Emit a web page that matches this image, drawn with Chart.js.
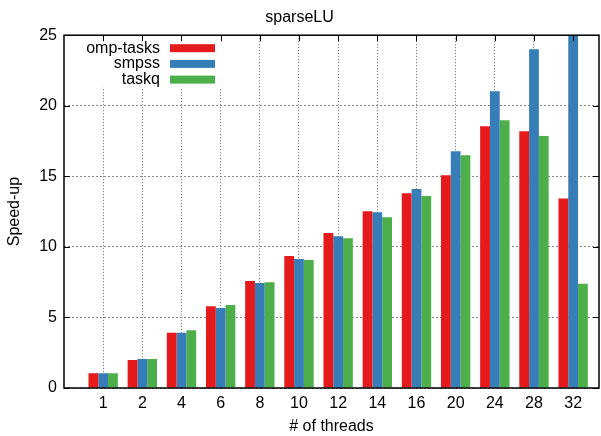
<!DOCTYPE html>
<html>
<head>
<meta charset="utf-8">
<script src="https://cdn.jsdelivr.net/npm/chart.js@4.4.0/dist/chart.umd.min.js"></script>
<style>
html, body { margin: 0; padding: 0; background: #fff; }
#wrap { width: 601px; height: 436px; }
</style>
</head>
<body>
<div id="wrap"><canvas id="speedupChart"></canvas></div>
<script>
const threads = ['1', '2', '4', '6', '8', '10', '12', '14', '16', '20', '24', '28', '32'];
const ompTasks = [1.05, 1.98, 3.92, 5.8, 7.58, 9.35, 10.98, 12.53, 13.8, 15.08, 18.55, 18.2, 13.43];
const smpss = [1.05, 2.05, 3.92, 5.67, 7.44, 9.14, 10.76, 12.46, 14.1, 16.78, 21.03, 24.0, 25];
const taskq = [1.05, 2.05, 4.1, 5.88, 7.5, 9.07, 10.62, 12.1, 13.6, 16.5, 18.98, 17.85, 7.39];
const yTicks = [0, 5, 10, 15, 20, 25];

const FONT = "'Liberation Sans', Arial, Helvetica, sans-serif";
Chart.defaults.font.family = FONT;
Chart.defaults.font.size = 16;
Chart.defaults.color = '#000';

// bars are placed on a linear x axis so the left/right margins can differ
function toPoints(values) {
    return values.map((v, i) => ({ x: i + 1, y: v }));
}

// legend inside the plot (text left of the swatch), frame and inward ticks
const gnuplotLook = {
    id: 'gnuplotLook',
    beforeDatasetsDraw(chart) {
        // bottom ticks sit behind the bars
        const ctx = chart.ctx;
        const area = chart.chartArea;
        const xs = chart.scales.x;
        ctx.save();
        ctx.strokeStyle = '#000';
        ctx.lineWidth = 1;
        ctx.beginPath();
        threads.forEach((t, i) => {
            const px = Math.round(xs.getPixelForValue(i + 1)) + 0.5;
            ctx.moveTo(px, area.bottom);
            ctx.lineTo(px, area.bottom - 6);
        });
        ctx.stroke();
        ctx.restore();
    },
    afterDatasetsDraw(chart) {
        const ctx = chart.ctx;
        const area = chart.chartArea;
        ctx.save();
        ctx.fillStyle = '#fff';
        ctx.fillRect(area.left + 1, area.top + 1, 162, 51);
        ctx.font = '16px ' + FONT;
        ctx.textAlign = 'right';
        ctx.textBaseline = 'middle';
        chart.data.datasets.forEach((ds, i) => {
            const y = area.top + 13 + i * 15.7;
            ctx.fillStyle = '#000';
            ctx.fillText(ds.label, area.left + 96, y);
            ctx.fillStyle = ds.backgroundColor;
            ctx.fillRect(area.left + 106, y - 4, 45, 8);
        });
        ctx.restore();
    },
    afterDraw(chart) {
        const ctx = chart.ctx;
        const area = chart.chartArea;
        const xs = chart.scales.x;
        const ys = chart.scales.y;
        ctx.save();
        ctx.strokeStyle = '#000';
        ctx.lineWidth = 1;
        ctx.beginPath();
        threads.forEach((t, i) => {
            const px = Math.round(xs.getPixelForValue(i + 1)) + 0.5;
            ctx.moveTo(px, area.top);
            ctx.lineTo(px, area.top + 6);
        });
        yTicks.forEach(v => {
            const py = Math.round(ys.getPixelForValue(v)) + 0.5;
            ctx.moveTo(area.left, py);
            ctx.lineTo(area.left + 6, py);
            ctx.moveTo(area.right, py);
            ctx.lineTo(area.right - 6, py);
        });
        ctx.stroke();
        ctx.lineWidth = 1.5;
        ctx.strokeRect(area.left, area.top, area.right - area.left, area.bottom - area.top);
        ctx.restore();
    }
};

const ctx = document.getElementById('speedupChart');

new Chart(ctx, {
    type: 'bar',
    data: {
        datasets: [
            {
                label: 'omp-tasks',
                data: toPoints(ompTasks),
                backgroundColor: '#e41a1c'
            },
            {
                label: 'smpss',
                data: toPoints(smpss),
                backgroundColor: '#377eb8'
            },
            {
                label: 'taskq',
                data: toPoints(taskq),
                backgroundColor: '#4daf4a'
            }
        ]
    },
    options: {
        responsive: true,
        maintainAspectRatio: false,
        animation: false,
        categoryPercentage: 0.75,
        barPercentage: 1.0,
        layout: {
            padding: { left: 0, right: 2, top: 0, bottom: 0 }
        },
        plugins: {
            legend: { display: false },
            tooltip: { enabled: false },
            title: {
                display: true,
                text: 'sparseLU',
                font: { size: 16, weight: 'normal' },
                color: '#000',
                padding: { top: 8, bottom: 8 }
            }
        },
        scales: {
            x: {
                type: 'linear',
                offset: false,
                min: 0,
                max: 13.66,
                afterBuildTicks: scale => {
                    scale.ticks = threads.map((t, i) => ({ value: i + 1 }));
                },
                afterFit: scale => {
                    scale.height = 48;
                },
                ticks: {
                    autoSkip: false,
                    maxRotation: 0,
                    padding: 6,
                    callback: value => threads[value - 1]
                },
                grid: {
                    drawTicks: false,
                    offset: false,
                    color: '#666'
                },
                border: { display: false, dash: [1, 2] },
                title: {
                    display: true,
                    text: '# of threads',
                    padding: { top: 0, bottom: 0 }
                }
            },
            y: {
                min: 0,
                max: 25,
                afterBuildTicks: scale => {
                    scale.ticks = yTicks.map(v => ({ value: v }));
                },
                afterFit: scale => {
                    scale.width = 64;
                },
                ticks: {
                    padding: 7
                },
                grid: {
                    drawTicks: false,
                    color: '#888'
                },
                border: { display: false, dash: [2, 2] },
                title: {
                    display: true,
                    text: 'Speed-up',
                    padding: { top: 5, bottom: 0 }
                }
            }
        }
    },
    plugins: [gnuplotLook]
});
</script>
</body>
</html>
